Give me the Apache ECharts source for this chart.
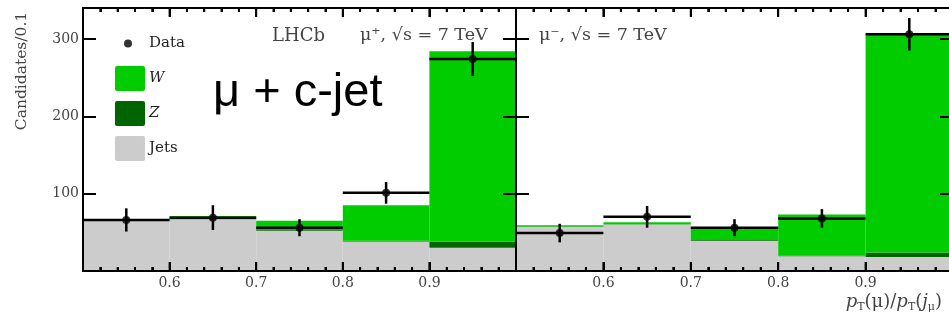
<!DOCTYPE html>
<html><head><meta charset="utf-8">
<script src="https://cdn.jsdelivr.net/npm/echarts@6/dist/echarts.min.js"></script>
<style>html,body{margin:0;padding:0;background:#fff}#c{width:949px;height:320px}</style>
</head><body><div id="c"></div>
<script>
// bins (lower edges, upper edges, centres)
const binLo = [0.5, 0.6, 0.7, 0.8, 0.9];
const binHi = [0.6, 0.7, 0.8, 0.9, 1.0];
const binMid = [0.55, 0.65, 0.75, 0.85, 0.95];
const xTickLabels = ['0.6', '0.7', '0.8', '0.9'];
const yTickLabels = ['100', '200', '300'];
const xMajorTicks = [0.5, 0.6, 0.7, 0.8, 0.9, 1.0];
const xMinorTicks = [0.52, 0.54, 0.56, 0.58, 0.62, 0.64, 0.66, 0.68, 0.72, 0.74, 0.76, 0.78,
                     0.82, 0.84, 0.86, 0.88, 0.92, 0.94, 0.96, 0.98];

// mu+ panel
const jetsPlus = [65, 67, 52, 38, 30];
const zPlus = [0.5, 0.5, 1, 1, 8];
const wPlus = [0.5, 3.5, 12, 46, 246];
const dataPlus = [66, 69, 56, 101, 274];
const errPlus = [15, 16, 11, 14, 22];

// mu- panel
const jetsMinus = [57, 60, 39, 19, 18];
const zMinus = [0.5, 0.5, 1, 1, 6];
const wMinus = [1.5, 2.5, 17, 53, 282];
const dataMinus = [49, 70, 56, 68, 306];
const errMinus = [12, 14, 11, 12, 21];

const COL_W = '#00cc00', COL_Z = '#006400', COL_J = '#cccccc';
const SERIF = '"DejaVu Serif", "Liberation Serif", serif';
const TXT = '#444';
const TICK = '#000';
const Y_MIN = 0, Y_MAX = 340;

function histSeries(name, color, bottoms, heights, gi) {
  return {
    name, type: 'custom', xAxisIndex: gi * 2, yAxisIndex: gi * 2,
    itemStyle: { color },
    encode: { x: [0, 1], y: [2, 3] },
    data: binLo.map((lo, i) => [lo, binHi[i], bottoms[i], bottoms[i] + heights[i]]),
    renderItem(params, api) {
      const p0 = api.coord([api.value(0), api.value(2)]);
      const p1 = api.coord([api.value(1), api.value(3)]);
      return { type: 'rect', shape: { x: p0[0], y: p1[1], width: p1[0] - p0[0], height: p0[1] - p1[1] }, style: { fill: color } };
    },
    z: 2
  };
}
function errSeries(vals, errs, gi) {
  return {
    type: 'custom', xAxisIndex: gi * 2, yAxisIndex: gi * 2,
    encode: { x: [0, 1, 2], y: [3] },
    data: binLo.map((lo, i) => [lo, binHi[i], binMid[i], vals[i], errs[i]]),
    renderItem(params, api) {
      const a = api.coord([api.value(0), api.value(3)]);
      const b = api.coord([api.value(1), api.value(3)]);
      const t = api.coord([api.value(2), api.value(3) + api.value(4)]);
      const u = api.coord([api.value(2), api.value(3) - api.value(4)]);
      const st = { stroke: '#000', lineWidth: 2.5 };
      return { type: 'group', children: [
        { type: 'line', shape: { x1: a[0], y1: a[1], x2: b[0], y2: b[1] }, style: st },
        { type: 'line', shape: { x1: t[0], y1: t[1], x2: u[0], y2: u[1] }, style: st }
      ] };
    },
    z: 5
  };
}
function dotSeries(vals, gi) {
  return {
    name: 'Data', type: 'scatter', xAxisIndex: gi * 2, yAxisIndex: gi * 2,
    symbolSize: 8, itemStyle: { color: '#000' },
    data: binMid.map((m, i) => [m, vals[i]]), z: 6
  };
}
// x-axis ticks (inside, bottom and top) drawn through the axis scale
function tickSeries(gi) {
  const data = xMajorTicks.map(v => [v, 9]).concat(xMinorTicks.map(v => [v, 4]));
  return {
    type: 'custom', xAxisIndex: gi * 2, yAxisIndex: gi * 2, silent: true, clip: false,
    encode: { x: 0 },
    data,
    renderItem(params, api) {
      const len = api.value(1);
      const b = api.coord([api.value(0), Y_MIN]);
      const t = api.coord([api.value(0), Y_MAX]);
      const st = { stroke: TICK, lineWidth: 2 };
      return { type: 'group', children: [
        { type: 'line', shape: { x1: b[0], y1: b[1], x2: b[0], y2: b[1] - len }, style: st },
        { type: 'line', shape: { x1: t[0], y1: t[1], x2: t[0], y2: t[1] + len }, style: st }
      ] };
    },
    z: 8
  };
}
function cumsum(a, b) { return a.map((v, i) => v + b[i]); }

function xAxes(gi) {
  const mk = (pos, lbl) => ({ type: 'value', gridIndex: gi, position: pos, min: 0.5, max: 1.0, interval: 0.1, z: 10,
    splitLine: { show: false },
    axisLine: { show: true, onZero: false, lineStyle: { color: '#000', width: 2 } },
    axisTick: { show: true, inside: true, length: 9, lineStyle: { color: TICK, width: 2 } },
    minorTick: { show: true, splitNumber: 5, length: 4, lineStyle: { color: TICK, width: 2 } },
    axisLabel: lbl ? { show: true, margin: 5, color: TXT, fontFamily: SERIF, fontSize: 14,
        formatter: v => { const s = v.toFixed(1); return xTickLabels.includes(s) ? s : ''; } } : { show: false } });
  return [mk('bottom', true), mk('top', false)];
}
function yAxes(gi, labels) {
  const mk = (pos, lbl) => ({ type: 'value', gridIndex: gi, position: pos, min: Y_MIN, max: Y_MAX, interval: 100, z: 10,
    splitLine: { show: false },
    axisLine: { show: true, onZero: false, lineStyle: { color: '#000', width: 2 } },
    axisTick: { show: true, inside: true, length: 13, lineStyle: { color: TICK, width: 2 } },
    axisLabel: lbl ? { show: true, margin: 4, color: TXT, fontFamily: SERIF, fontSize: 14,
        formatter: v => { const s = String(v); return yTickLabels.includes(s) ? s : ''; } } : { show: false } });
  return [mk('left', labels), mk('right', false)];
}

const chart = echarts.init(document.getElementById('c'));
const series = [];
[[jetsPlus, zPlus, wPlus, dataPlus, errPlus], [jetsMinus, zMinus, wMinus, dataMinus, errMinus]].forEach((p, gi) => {
  const [j, z, w, d, e] = p;
  const zeros = j.map(() => 0);
  series.push(histSeries('Jets', COL_J, zeros, j, gi));
  series.push(histSeries('Z', COL_Z, j, z, gi));
  series.push(histSeries('W', COL_W, cumsum(j, z), w, gi));
  series.push(tickSeries(gi));
  series.push(errSeries(d, e, gi));
  series.push(dotSeries(d, gi));
});

const boxIcon = 'path://M2,0L28,0Q30,0 30,2L30,23Q30,25 28,25L2,25Q0,25 0,23L0,2Q0,0 2,0Z';
chart.setOption({
  animation: false,
  grid: [
    { left: 83, top: 8, width: 433, height: 263, outerBoundsMode: 'none' },
    { left: 516, top: 8, width: 437, height: 263, outerBoundsMode: 'none' }
  ],
  xAxis: [...xAxes(0), ...xAxes(1)],
  yAxis: [...yAxes(0, true), ...yAxes(1, false)],
  legend: {
    orient: 'vertical', left: 115, top: 31, padding: 0, itemWidth: 30, itemHeight: 25, itemGap: 10,
    selectedMode: false,
    textStyle: { fontFamily: SERIF, fontSize: 15, color: '#222', padding: [0, 0, 0, -1] },
    data: [
      { name: 'Data', icon: 'path://M0,0L0,0M30,25L30,25M9,12.5a4,4 0 1,0 8,0a4,4 0 1,0 -8,0Z', itemStyle: { color: '#000' } },
      { name: 'W', icon: boxIcon, textStyle: { fontStyle: 'italic' } },
      { name: 'Z', icon: boxIcon, textStyle: { fontStyle: 'italic' } },
      { name: 'Jets', icon: boxIcon }
    ]
  },
  graphic: [
    { type: 'text', x: 22, y: 71, rotation: Math.PI / 2,
      style: { text: 'Candidates/0.1', fontFamily: SERIF, fontSize: 15.5, fill: TXT, align: 'center', verticalAlign: 'middle' } },
    { type: 'text', x: 272, y: 36,
      style: { text: 'LHCb', fontFamily: SERIF, fontSize: 18, fill: TXT, align: 'left', verticalAlign: 'middle' } },
    { type: 'text', x: 360, y: 35,
      style: { text: 'μ⁺, √s = 7 TeV', fontFamily: SERIF, fontSize: 17.5, fill: TXT, align: 'left', verticalAlign: 'middle' } },
    { type: 'text', x: 539, y: 35,
      style: { text: 'μ⁻, √s = 7 TeV', fontFamily: SERIF, fontSize: 17.5, fill: TXT, align: 'left', verticalAlign: 'middle' } },
    { type: 'text', x: 213, y: 93,
      style: { text: 'μ + c-jet', fontFamily: '"Liberation Sans", Arial, sans-serif', fontSize: 47, fill: '#000', align: 'left', verticalAlign: 'middle' } },
    { type: 'text', x: 942, y: 302,
      style: { text: '{i|p}{s|T}{n|(μ)/}{i|p}{s|T}{n|(}{i|j}{s|μ}{n|)}', align: 'right', verticalAlign: 'middle',
        rich: {
          i: { fontFamily: SERIF, fontSize: 18, fontStyle: 'italic', fill: TXT },
          n: { fontFamily: SERIF, fontSize: 18, fill: TXT },
          s: { fontFamily: SERIF, fontSize: 11, fill: TXT, verticalAlign: 'bottom', padding: [11, 0, 0, 0] }
        },
        fontFamily: SERIF, fontSize: 18, fill: TXT } }
  ],
  series
});
</script></body></html>
